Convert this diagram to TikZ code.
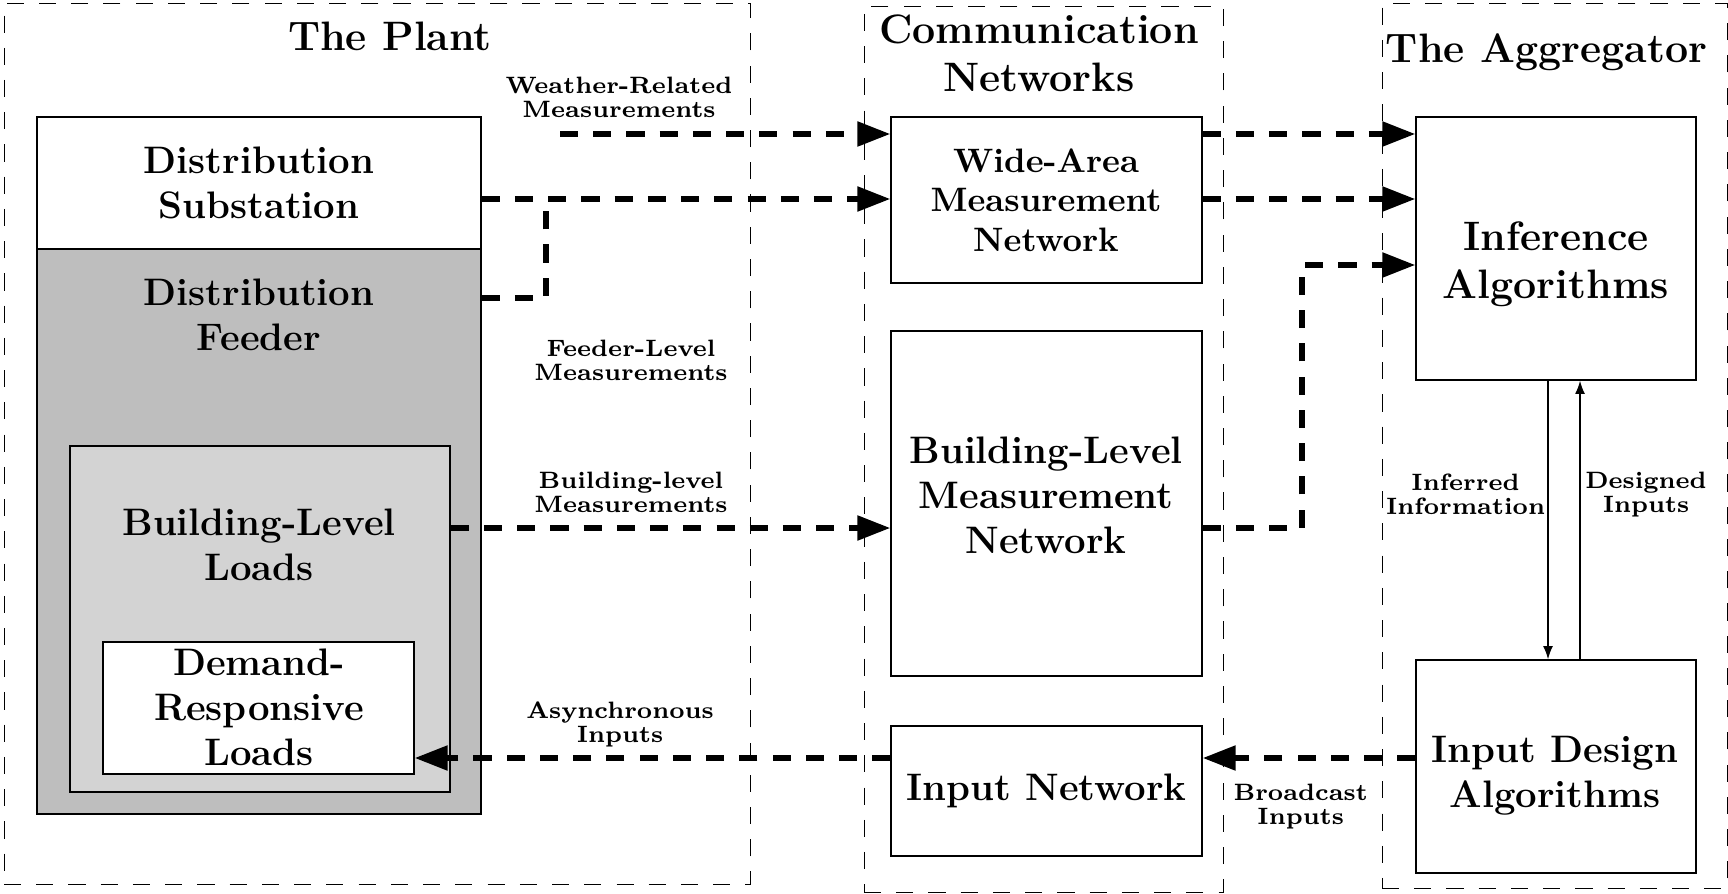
\documentclass[tikz,border=0pt]{standalone}
\usetikzlibrary{arrows.meta,fit}
\definecolor{feedergray}{RGB}{190,190,190}
\definecolor{bldggray}{RGB}{211,211,211}
\newcommand\ftitle{\fontsize{12.5}{14.6}\bfseries}
\newcommand\fmainx{\fontsize{11.65}{13.7}\bfseries}
\newcommand\fwam{\fontsize{10.3}{11.9}\bfseries}
\newcommand\fsmallx{\fontsize{7.2}{7.3}\bfseries}
\begin{document}
\begin{tikzpicture}[x=0.304pt,y=-0.304pt,
  region/.style={draw, line width=0.3pt, dash pattern=on 5.2pt off 4.6pt, inner sep=0pt},
  box/.style={draw, line width=0.45pt, inner sep=0pt},
  lbl/.style={anchor=north, inner sep=0pt, align=center},
  flow/.style={line width=1.6pt, dash pattern=on 5.5pt off 4.6pt, -{Triangle[length=10pt,width=7.3pt]}},
  flowline/.style={line width=1.6pt, dash pattern=on 5.5pt off 4.6pt},
  fback/.style={line width=0.4pt, -{Latex[length=4pt,width=3pt]}}
]
\useasboundingbox (0,0) rectangle (1728,894);
% regions
\node[region, fit={(4,3) (750,884)}] (plant) {};
\node[region, fit={(864,6) (1223,892)}] (comm) {};
\node[region, fit={(1382,3) (1727,888)}] (agg) {};
\node[lbl, font=\ftitle] (tplant) at (390,21.5) {The Plant};
\node[lbl, font=\ftitle, text depth=0pt] (tcomm) at (1039,13.8) {Communication\\Networks};
\node[lbl, font=\ftitle] (tagg) at (1546.5,33.5) {The Aggregator};
% plant boxes
\node[box, fill=feedergray, fit={(37,249) (481,814)}] (feeder) {};
\node[box, fill=white, fit={(37,117) (481,249)}] (sub) {};
\node[box, fill=bldggray, fit={(70,446) (450,792)}] (bldg) {};
\node[box, fill=white, fit={(103,642) (414,774)}] (dr) {};
\node[lbl, font=\fmainx] (tsub) at (259,146.4) {Distribution\\Substation};
\node[lbl, font=\fmainx] (tfeeder) at (259,278.4) {Distribution\\Feeder};
\node[lbl, font=\fmainx] (tbldg) at (259,508.4) {Building-Level\\Loads};
\node[lbl, font=\fmainx] (tdr) at (259,648.4) {Demand-\\Responsive\\Loads};
% communication boxes
\node[box, fit={(891,117) (1202,283)}] (wamn) {};
\node[box, fit={(891,331) (1202,676)}] (blmn) {};
\node[box, fit={(891,726) (1202,856)}] (innet) {};
\node[lbl, font=\fwam] (twamn) at (1046,148.5) {Wide-Area\\Measurement\\Network};
\node[lbl, font=\fmainx] (tblmn) at (1046,436.4) {Building-Level\\Measurement\\Network};
\node[lbl, font=\fmainx] (tinnet) at (1046.5,773.4) {Input Network};
% aggregator boxes
\node[box, fit={(1416,117) (1696,380)}] (inf) {};
\node[box, fit={(1416,660) (1696,873)}] (idesign) {};
\node[lbl, font=\fontsize{12.5}{14.6}\bfseries] (tinf) at (1556,221.5) {Inference\\Algorithms};
\node[lbl, font=\fmainx] (tidesign) at (1555,735.7) {Input Design\\Algorithms};
% small labels
\node[lbl, font=\fsmallx] (lweather) at (619,76.6) {Weather-Related\\Measurements};
\node[lbl, font=\fsmallx] (lfeeder) at (631,339.6) {Feeder-Level\\Measurements};
\node[lbl, font=\fsmallx] (lbldg) at (631,471.6) {Building-level\\Measurements};
\node[lbl, font=\fsmallx] (lasync) at (620,701.6) {Asynchronous\\Inputs};
\node[lbl, font=\fsmallx] (linfer) at (1465.5,473.6) {Inferred\\Information};
\node[lbl, font=\fsmallx] (ldesign) at (1646,471.6) {Designed\\Inputs};
\node[lbl, font=\fsmallx] (lbroad) at (1300.7,783.6) {Broadcast\\Inputs};
% helper coordinates
\coordinate (yA) at (0,134);
\coordinate (yB) at (0,199);
\coordinate (yC) at (0,265);
\coordinate (yD) at (0,528);
\coordinate (yE) at (0,758);
\coordinate (yF) at (0,298);
\coordinate (wstart) at (560,134);
\coordinate (fj) at (546,298);
\coordinate (bj) at (1302,528);
\coordinate (xL) at (1548,0);
\coordinate (xR) at (1580,0);
% flows
\draw[flow] (wstart) -- (wamn.west |- yA);
\draw[flow] (sub.east |- yB) -- (wamn.west |- yB);
\draw[flowline] (feeder.east |- yF) -- (fj) -- (fj |- yB);
\draw[flow] (wamn.east |- yA) -- (inf.west |- yA);
\draw[flow] (wamn.east |- yB) -- (inf.west |- yB);
\draw[flow] (blmn.east |- yD) -- (bj) -- (bj |- yC) -- (inf.west |- yC);
\draw[flow] (bldg.east |- yD) -- (blmn.west |- yD);
\draw[flow] (idesign.west |- yE) -- (innet.east |- yE);
\draw[flow] (innet.west |- yE) -- (dr.east |- yE);
\draw[fback] (inf.south -| xL) -- (idesign.north -| xL);
\draw[fback] (idesign.north -| xR) -- (inf.south -| xR);
\end{tikzpicture}
\end{document}
